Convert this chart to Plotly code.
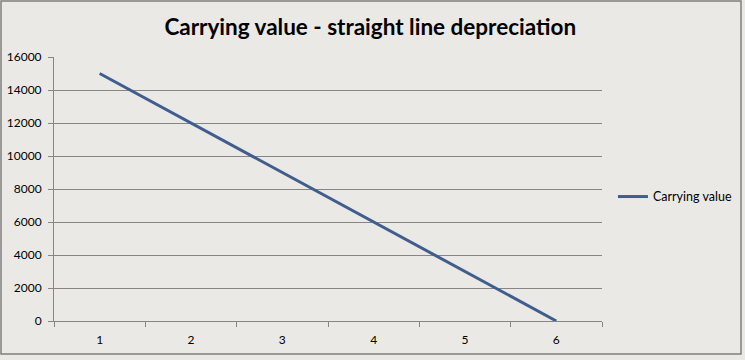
import plotly.graph_objects as go

years = ["1", "2", "3", "4", "5", "6"]
carrying_value = [15000, 12000, 9000, 6000, 3000, 0]
series_name = "Carrying value"
title_text = "Carrying value - straight line depreciation"

W, H = 745, 360
L, R, T, B = 54, 143, 57, 39
pw, ph = W - L - R, H - T - B

def px_x(p):
    return (p - L) / pw

def px_y(p):
    return (H - B - p) / ph

bg = "#ebe9e6"
fig = go.Figure()
fig.add_trace(go.Scatter(
    x=years, y=carrying_value, mode="lines", name=series_name,
    line=dict(color="#3f5e8e", width=3),
))

fig.update_layout(
    width=W, height=H,
    margin=dict(l=L, r=R, t=T, b=B, autoexpand=False),
    paper_bgcolor=bg, plot_bgcolor=bg,
    font=dict(family="Lato, Liberation Sans, sans-serif", size=12, color="#000000"),
    title=dict(text="<b>" + title_text + "</b>", x=0.497, xanchor="center",
               y=1 - 27 / H, yanchor="middle",
               font=dict(family="Lato, sans-serif", size=22.5, color="#000000")),
    showlegend=True,
    legend=dict(x=1.02, xanchor="left", y=0.47, yanchor="middle",
                bgcolor="rgba(0,0,0,0)", font=dict(size=12.5, color="#000000")),
    xaxis=dict(type="category", showgrid=False, showline=True, linecolor="#868686",
               linewidth=1, ticks="outside", tickson="boundaries", ticklen=5,
               tickcolor="#868686", range=[-0.5, 5.5], zeroline=False,
               ticklabelstandoff=8, automargin=False, fixedrange=True),
    yaxis=dict(range=[0, 16000], dtick=2000, showgrid=True, gridcolor="#868686",
               gridwidth=1, showline=True, linecolor="#868686", ticks="outside",
               ticklen=5, tickcolor="#868686", zeroline=False, tickformat="d",
               ticklabelstandoff=4, automargin=False),
    shapes=[dict(type="rect", xref="paper", yref="paper",
                 x0=px_x(1), x1=px_x(741), y0=px_y(354), y1=px_y(1),
                 line=dict(color="#7f7f7f", width=1.5), layer="below")],
)

fig.write_html("out.html")
